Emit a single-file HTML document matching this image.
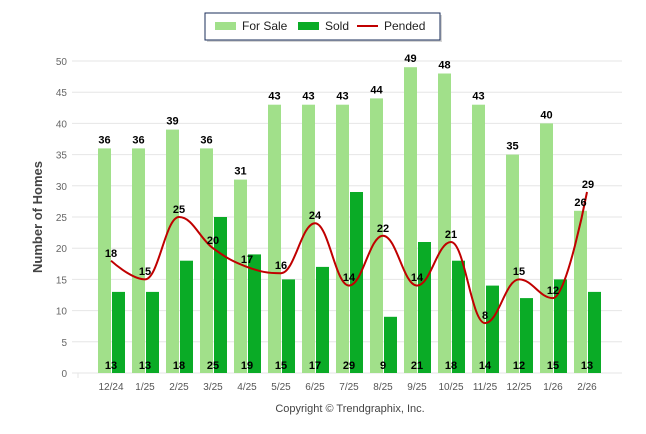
<!DOCTYPE html>
<html><head><style>body{margin:0;background:#fff}svg{display:block}text{font-family:"Liberation Sans",Arial,sans-serif}</style></head><body>
<svg width="646" height="434" viewBox="0 0 646 434" xmlns="http://www.w3.org/2000/svg">
<rect x="207" y="15" width="235" height="27" fill="#888" opacity="0.35"/>
<rect x="205" y="13" width="235" height="27" fill="#fff" stroke="#1a2e5a" stroke-width="1"/>
<rect x="215" y="22" width="21" height="8" fill="#a1e08a"/><text x="242" y="30" font-size="12" fill="#222">For Sale</text>
<rect x="298" y="22" width="21" height="8" fill="#0aab26"/><text x="325" y="30" font-size="12" fill="#222">Sold</text>
<line x1="357" y1="26" x2="378" y2="26" stroke="#c00000" stroke-width="2"/><text x="384" y="30" font-size="12" fill="#222">Pended</text>
<g stroke="#e6e6e6" stroke-width="1">
<line x1="72" x2="622" y1="341.8" y2="341.8"/><line x1="72" x2="622" y1="310.6" y2="310.6"/><line x1="72" x2="622" y1="279.4" y2="279.4"/><line x1="72" x2="622" y1="248.2" y2="248.2"/><line x1="72" x2="622" y1="217" y2="217"/><line x1="72" x2="622" y1="185.8" y2="185.8"/><line x1="72" x2="622" y1="154.6" y2="154.6"/><line x1="72" x2="622" y1="123.4" y2="123.4"/><line x1="72" x2="622" y1="92.2" y2="92.2"/><line x1="72" x2="622" y1="61" y2="61"/><line x1="72" x2="622" y1="373" y2="373"/>
<line x1="78" x2="78" y1="373" y2="378"/>
</g>
<g font-size="10" fill="#666" text-anchor="end">
<text x="67" y="377">0</text><text x="67" y="345.8">5</text><text x="67" y="314.6">10</text><text x="67" y="283.4">15</text><text x="67" y="252.2">20</text><text x="67" y="221">25</text><text x="67" y="189.8">30</text><text x="67" y="158.6">35</text><text x="67" y="127.4">40</text><text x="67" y="96.2">45</text><text x="67" y="65">50</text>
</g>
<text transform="translate(42,217) rotate(-90)" font-size="13" font-weight="bold" fill="#444" text-anchor="middle">Number of Homes</text>
<g fill="#a1e08a">
<rect x="98" y="148.4" width="13" height="224.6"/><rect x="132" y="148.4" width="13" height="224.6"/><rect x="166" y="129.6" width="13" height="243.4"/><rect x="200" y="148.4" width="13" height="224.6"/><rect x="234" y="179.6" width="13" height="193.4"/><rect x="268" y="104.7" width="13" height="268.3"/><rect x="302" y="104.7" width="13" height="268.3"/><rect x="336" y="104.7" width="13" height="268.3"/><rect x="370" y="98.4" width="13" height="274.6"/><rect x="404" y="67.2" width="13" height="305.8"/><rect x="438" y="73.5" width="13" height="299.5"/><rect x="472" y="104.7" width="13" height="268.3"/><rect x="506" y="154.6" width="13" height="218.4"/><rect x="540" y="123.4" width="13" height="249.6"/><rect x="574" y="210.8" width="13" height="162.2"/>
</g>
<g fill="#0aab26">
<rect x="112" y="291.9" width="13" height="81.1"/><rect x="146" y="291.9" width="13" height="81.1"/><rect x="180" y="260.7" width="13" height="112.3"/><rect x="214" y="217" width="13" height="156"/><rect x="248" y="254.4" width="13" height="118.6"/><rect x="282" y="279.4" width="13" height="93.6"/><rect x="316" y="266.9" width="13" height="106.1"/><rect x="350" y="192" width="13" height="181"/><rect x="384" y="316.8" width="13" height="56.2"/><rect x="418" y="242" width="13" height="131"/><rect x="452" y="260.7" width="13" height="112.3"/><rect x="486" y="285.6" width="13" height="87.4"/><rect x="520" y="298.1" width="13" height="74.9"/><rect x="554" y="279.4" width="13" height="93.6"/><rect x="588" y="291.9" width="13" height="81.1"/>
</g>
<path d="M111 260.7 C111 260.7 131.4 279.4 145 279.4 C158.6 279.4 165.4 217 179 217 C192.6 217 199.4 238.2 213 248.2 C226.6 258.2 233.4 261.9 247 266.9 C260.6 271.9 267.4 273.2 281 273.2 C294.6 273.2 301.4 223.2 315 223.2 C328.6 223.2 335.4 285.6 349 285.6 C362.6 285.6 369.4 235.7 383 235.7 C396.6 235.7 403.4 285.6 417 285.6 C430.6 285.6 437.4 242 451 242 C464.6 242 471.4 323.1 485 323.1 C498.6 323.1 505.4 279.4 519 279.4 C532.6 279.4 539.4 298.1 553 298.1 C566.6 298.1 587 192 587 192" fill="none" stroke="#c00000" stroke-width="2"/>
<g font-size="11" font-weight="bold" fill="#000" text-anchor="middle">
<text x="104.5" y="143.4">36</text><text x="138.5" y="143.4">36</text><text x="172.5" y="124.6">39</text><text x="206.5" y="143.4">36</text><text x="240.5" y="174.6">31</text><text x="274.5" y="99.7">43</text><text x="308.5" y="99.7">43</text><text x="342.5" y="99.7">43</text><text x="376.5" y="93.4">44</text><text x="410.5" y="62.2">49</text><text x="444.5" y="68.5">48</text><text x="478.5" y="99.7">43</text><text x="512.5" y="149.6">35</text><text x="546.5" y="118.4">40</text><text x="580.5" y="205.8">26</text>
<text x="111" y="369">13</text><text x="145" y="369">13</text><text x="179" y="369">18</text><text x="213" y="369">25</text><text x="247" y="369">19</text><text x="281" y="369">15</text><text x="315" y="369">17</text><text x="349" y="369">29</text><text x="383" y="369">9</text><text x="417" y="369">21</text><text x="451" y="369">18</text><text x="485" y="369">14</text><text x="519" y="369">12</text><text x="553" y="369">15</text><text x="587" y="369">13</text>
<text x="111" y="257">18</text><text x="145" y="275">15</text><text x="179" y="213">25</text><text x="213" y="244">20</text><text x="247" y="263">17</text><text x="281" y="269">16</text><text x="315" y="219">24</text><text x="349" y="281">14</text><text x="383" y="232">22</text><text x="417" y="281">14</text><text x="451" y="238">21</text><text x="485" y="319">8</text><text x="519" y="275">15</text><text x="553" y="294">12</text><text x="588" y="188">29</text>
</g>
<g font-size="10" fill="#555" text-anchor="middle">
<text x="111" y="390">12/24</text><text x="145" y="390">1/25</text><text x="179" y="390">2/25</text><text x="213" y="390">3/25</text><text x="247" y="390">4/25</text><text x="281" y="390">5/25</text><text x="315" y="390">6/25</text><text x="349" y="390">7/25</text><text x="383" y="390">8/25</text><text x="417" y="390">9/25</text><text x="451" y="390">10/25</text><text x="485" y="390">11/25</text><text x="519" y="390">12/25</text><text x="553" y="390">1/26</text><text x="587" y="390">2/26</text>
</g>
<text x="350" y="412" font-size="11" fill="#444" text-anchor="middle">Copyright © Trendgraphix, Inc.</text>
</svg>
</body></html>
